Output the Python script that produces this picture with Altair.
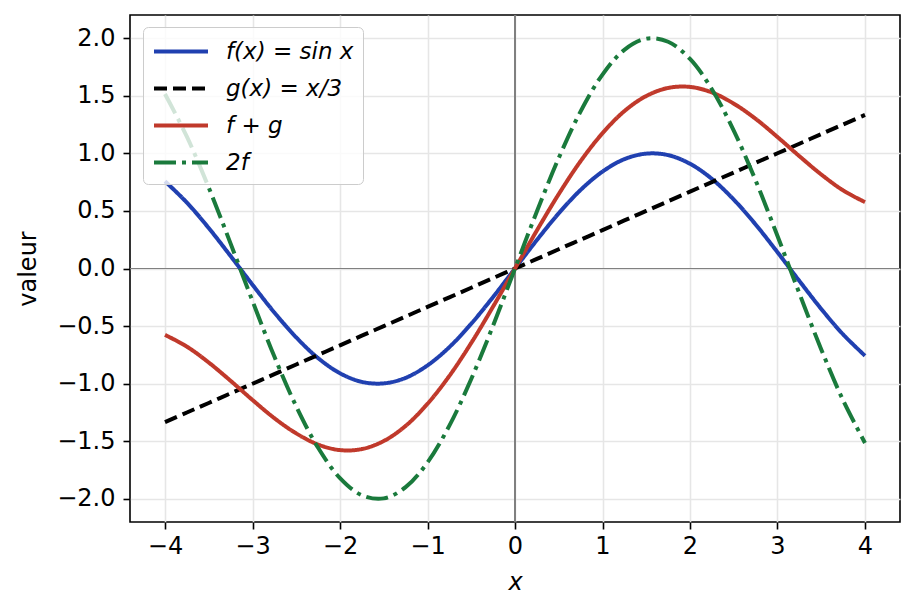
import altair as alt
import pandas as pd

# sample points
xs = [-4.0, -3.75, -3.5, -3.25, -3.0, -2.75, -2.5, -2.25, -2.0, -1.75, -1.5,
      -1.25, -1.0, -0.75, -0.5, -0.25, 0.0, 0.25, 0.5, 0.75, 1.0, 1.25, 1.5,
      1.75, 2.0, 2.25, 2.5, 2.75, 3.0, 3.25, 3.5, 3.75, 4.0]
f_vals = [0.757, 0.572, 0.351, 0.108, -0.141, -0.382, -0.598, -0.778, -0.909,
          -0.984, -0.997, -0.949, -0.841, -0.682, -0.479, -0.247, 0.0, 0.247,
          0.479, 0.682, 0.841, 0.949, 0.997, 0.984, 0.909, 0.778, 0.598, 0.382,
          0.141, -0.108, -0.351, -0.572, -0.757]
g_vals = [-1.333, -1.25, -1.167, -1.083, -1.0, -0.917, -0.833, -0.75, -0.667,
          -0.583, -0.5, -0.417, -0.333, -0.25, -0.167, -0.083, 0.0, 0.083,
          0.167, 0.25, 0.333, 0.417, 0.5, 0.583, 0.667, 0.75, 0.833, 0.917,
          1.0, 1.083, 1.167, 1.25, 1.333]
fg_vals = [-0.576, -0.678, -0.816, -0.975, -1.141, -1.299, -1.431, -1.528,
           -1.576, -1.567, -1.497, -1.366, -1.174, -0.932, -0.646, -0.330, 0.0,
           0.330, 0.646, 0.932, 1.174, 1.366, 1.497, 1.567, 1.576, 1.528, 1.431,
           1.299, 1.141, 0.975, 0.816, 0.678, 0.576]
f2_vals = [1.514, 1.144, 0.702, 0.216, -0.282, -0.764, -1.197, -1.556, -1.819,
           -1.968, -1.995, -1.898, -1.683, -1.364, -0.959, -0.495, 0.0, 0.495,
           0.959, 1.364, 1.683, 1.898, 1.995, 1.968, 1.819, 1.556, 1.197, 0.764,
           0.282, -0.216, -0.702, -1.144, -1.514]

labels = ["f(x) = sin x", "g(x) = x/3", "f + g", "2f"]
colors = ["#2040b0", "#000000", "#c0392b", "#1a7a3c"]
dashes = [[1, 0], [13, 6], [1, 0], [22, 6, 4, 6]]

rows = []
for lab, vals in zip(labels, [f_vals, g_vals, fg_vals, f2_vals]):
    for x, y in zip(xs, vals):
        rows.append({"x": x, "y": y, "serie": lab})
df = pd.DataFrame(rows)

font = "DejaVu Sans"
xscale = alt.Scale(domain=[-4.4, 4.4], nice=False, zero=False)
yscale = alt.Scale(domain=[-2.2, 2.2], nice=False, zero=False)

vline = alt.Chart(df).mark_rule(color="#808080", strokeWidth=1.2).encode(
    x=alt.datum(0, scale=xscale))
hline = alt.Chart(df).mark_rule(color="#808080", strokeWidth=1.2).encode(
    y=alt.datum(0, scale=yscale))

lines = alt.Chart(df).mark_line(strokeWidth=4, interpolate="catmull-rom").encode(
    x=alt.X("x:Q", scale=xscale, title="x",
            axis=alt.Axis(values=list(range(-4, 5)), format="d",
                          titleFontStyle="italic")),
    y=alt.Y("y:Q", scale=yscale, title="valeur",
            axis=alt.Axis(values=[-2, -1.5, -1, -0.5, 0, 0.5, 1, 1.5, 2],
                          format=".1f")),
    color=alt.Color("serie:N", scale=alt.Scale(domain=labels, range=colors),
                    sort=labels, title=None),
    strokeDash=alt.StrokeDash("serie:N", scale=alt.Scale(domain=labels, range=dashes),
                              sort=labels, title=None),
)

chart = alt.layer(vline, hline, lines).properties(
    width=770, height=507,
    autosize=alt.AutoSizeParams(type="none"),
    padding={"left": 122, "top": 7, "right": 5, "bottom": 85},
).configure_view(
    stroke="black", strokeWidth=1.6
).configure_axis(
    labelFont=font, titleFont=font, labelFontSize=24, titleFontSize=24,
    labelColor="black", titleColor="black", titleFontWeight="normal",
    grid=True, gridColor="#e6e6e6", gridWidth=1.6,
    domain=False, tickColor="black", tickSize=7, tickWidth=1.6,
).configure_axisX(
    labelPadding=5, titlePadding=12
).configure_axisY(
    labelPadding=8, titlePadding=16
).configure_legend(
    orient="none", legendX=13, legendY=12,
    fillColor="rgba(255,255,255,0.8)", strokeColor="#cccccc", cornerRadius=5,
    padding=9, labelFont=font, labelFontSize=23, labelFontStyle="italic",
    labelColor="black", symbolType="M-1,0H3", symbolSize=729,
    symbolStrokeWidth=4, labelOffset=43, rowPadding=9,
)

chart.save("out.html", embed_options={"renderer": "svg", "actions": False})
